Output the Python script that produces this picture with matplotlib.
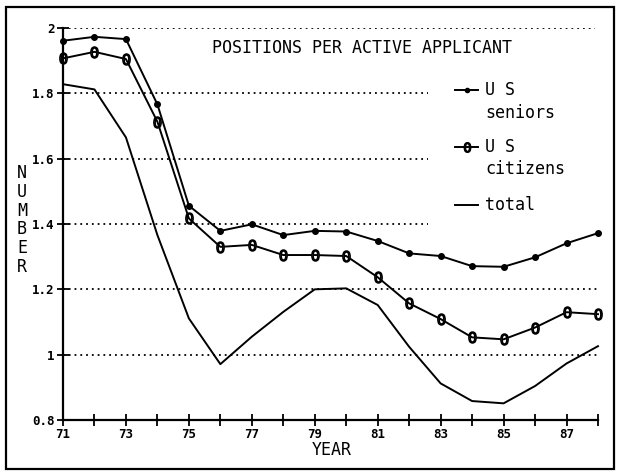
import matplotlib
matplotlib.use("Agg")
import matplotlib.pyplot as plt
from matplotlib.patches import Rectangle
from matplotlib.lines import Line2D

years = [71, 72, 73, 74, 75, 76, 77, 78, 79, 80, 81, 82, 83, 84, 85, 86, 87, 88]
seniors = [1.961, 1.973, 1.966, 1.766, 1.456, 1.379, 1.399, 1.366, 1.379, 1.377,
           1.348, 1.310, 1.302, 1.271, 1.269, 1.298, 1.341, 1.372]
citizens = [1.907, 1.927, 1.905, 1.713, 1.417, 1.330, 1.336, 1.305, 1.305, 1.302,
            1.237, 1.157, 1.109, 1.053, 1.047, 1.083, 1.130, 1.124]
total = [1.828, 1.812, 1.665, 1.366, 1.111, 0.971, 1.055, 1.131, 1.200, 1.203,
         1.152, 1.024, 0.912, 0.858, 0.851, 0.904, 0.973, 1.026]
ytick_vals = [0.8, 1.0, 1.2, 1.4, 1.6, 1.8, 2.0]
ytick_labels = ["0.8", "1", "1.2", "1.4", "1.6", "1.8", "2"]
xtick_labels = ["71", "", "73", "", "75", "", "77", "", "79", "", "81", "", "83", "", "85", "", "87", ""]
title = "POSITIONS PER ACTIVE APPLICANT"
legend_labels = ["U S\nseniors", "U S\ncitizens", "total"]

FONT = "DejaVu Sans Mono"
W, H = 618, 476
fig = plt.figure(figsize=(W / 100, H / 100), dpi=100)
ax = fig.add_axes([63 / W, 1 - 420 / H, (598 - 63) / W, (420 - 28) / H])
ax.set_xlim(71, 88)
ax.set_ylim(0.8, 2.0)
ax.patch.set_alpha(0)

for s in ["top", "right"]:
    ax.spines[s].set_visible(False)
for s in ["left", "bottom"]:
    ax.spines[s].set_linewidth(1.6)

ax.set_xticks(years)
ax.set_xticklabels(xtick_labels, fontfamily=FONT, fontweight="bold", fontsize=9)
ax.set_yticks(ytick_vals)
ax.set_yticklabels(ytick_labels, fontfamily=FONT, fontweight="bold", fontsize=9)
ax.tick_params(direction="inout", length=8, width=1.3, pad=2)

# dotted grid lines (partially interrupted by legend)
grid_ends = {1.0: 88, 1.2: 88, 1.4: 82.6, 1.6: 82.6, 1.8: 82.6, 2.0: 87.9}
for yv in ytick_vals[1:]:
    ax.hlines(yv, 71, grid_ends[yv], colors="black", linestyles=(0, (1, 2.2)), linewidth=1.3)

lw = 1.4
ax.plot(years, seniors, color="black", lw=lw, marker="o", markersize=4, clip_on=False)
ax.plot(years, citizens, color="black", lw=lw, marker="$0$", markersize=8,
        markerfacecolor="white", clip_on=False)
ax.plot(years, total, color="black", lw=lw, clip_on=False)

# title
fig.text(362 / W, 1 - 48 / H, title, ha="center", va="center", fontfamily=FONT,
         fontsize=12)

# legend drawn manually
leg = [(90, 113, dict(marker="o", markersize=3)),
       (147, 169, dict(marker="$0$", markersize=7)),
       (205, None, None)]
for (y1, y2, mk), lab in zip(leg, legend_labels):
    if mk:
        ln = Line2D([455 / W, 466.5 / W, 478 / W], [1 - y1 / H] * 3, color="black",
                    lw=1.4, markevery=[1], **mk)
    else:
        ln = Line2D([455 / W, 478 / W], [1 - y1 / H] * 2, color="black", lw=1.4)
    fig.add_artist(ln)
    lines = lab.split("\n")
    fig.text(485 / W, 1 - y1 / H, lines[0], ha="left", va="center", fontfamily=FONT,
             fontsize=12)
    if len(lines) > 1:
        fig.text(485 / W, 1 - y2 / H, lines[1], ha="left", va="center", fontfamily=FONT,
                 fontsize=12)

# axis labels
fig.text(22 / W, 1 - 220 / H, "N\nU\nM\nB\nE\nR", ha="center", va="center",
         fontfamily=FONT, fontsize=12, linespacing=1.07)
fig.text(332 / W, 1 - 450 / H, "YEAR", ha="center", va="center", fontfamily=FONT,
         fontsize=12)

# outer frame
fig.add_artist(Rectangle((6 / W, 1 - 469 / H), (614 - 6) / W, (469 - 7) / H,
                         transform=fig.transFigure, fill=False, edgecolor="black",
                         linewidth=1.6))

fig.savefig("out.png", dpi=100, facecolor="white")
